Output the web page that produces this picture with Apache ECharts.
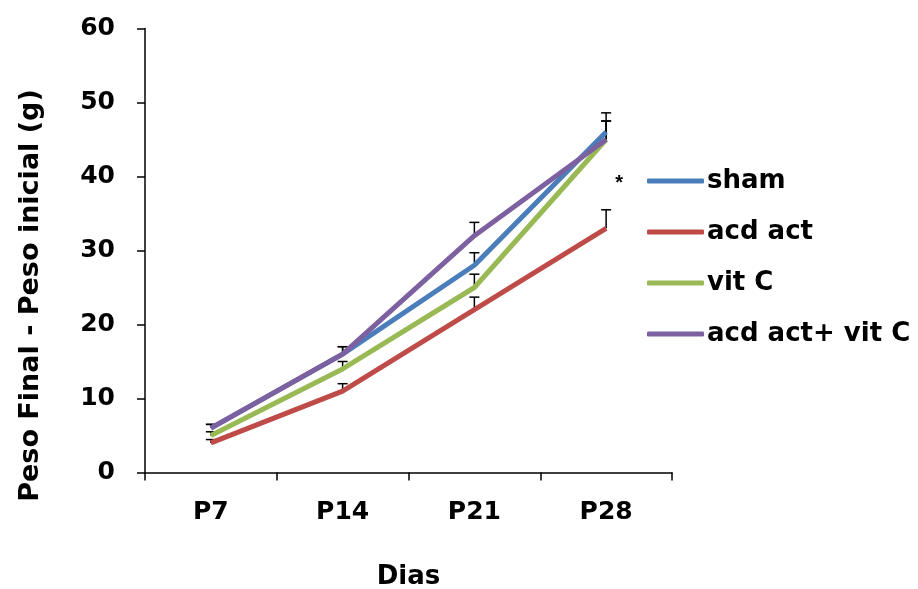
<!DOCTYPE html>
<html>
<head>
<meta charset="utf-8">
<script src="https://cdn.jsdelivr.net/npm/echarts@6/dist/echarts.min.js"></script>
<style>
  html, body { margin: 0; padding: 0; background: #fff; }
  #chart { width: 918px; height: 589px; }
</style>
</head>
<body>
<div id="chart"></div>
<script>
// categorias (dias)
const categories = ['P7', 'P14', 'P21', 'P28']
// medias por grupo
const sham = [6, 16, 28, 46]
const acdAct = [4, 11, 22, 33]
const vitC = [5, 14, 25, 45]
const acdActVitC = [6, 16, 32, 45]
// erro (so a parte de cima)
const shamErr = [0.5, 1.0, 1.7, 2.6]
const acdActErr = [0.45, 1.0, 1.7, 2.5]
const vitCErr = [0.5, 1.0, 1.8, 2.5]
const acdActVitCErr = [0.5, 1.0, 1.8, 2.5]
// marca de significancia
const starPoint = ['P28', 39]

const font = 'DejaVu Sans, sans-serif'
const chart = echarts.init(document.getElementById('chart'))

// serie de barra de erro
function errorSeries (values, errs) {
  return {
    type: 'custom',
    z: 1,
    silent: true,
    data: values.map((v, i) => [i, v, v + errs[i]]),
    renderItem (params, api) {
      const base = api.coord([api.value(0), api.value(1)])
      const top = api.coord([api.value(0), api.value(2)])
      const half = 5
      const style = { stroke: '#000', lineWidth: 1.5 }
      return {
        type: 'group',
        children: [
          { type: 'line', shape: { x1: base[0], y1: base[1], x2: top[0], y2: top[1] }, style },
          { type: 'line', shape: { x1: top[0] - half, y1: top[1], x2: top[0] + half, y2: top[1] }, style }
        ]
      }
    }
  }
}

function lineSeries (name, values, color) {
  return {
    name,
    type: 'line',
    z: 2,
    data: values,
    symbol: 'none',
    lineStyle: { color, width: 5 },
    itemStyle: { color }
  }
}

const option = {
  animation: false,
  textStyle: { fontFamily: font },
  grid: { left: 145, right: 246, top: 28.5, bottom: 116.5, containLabel: false, outerBoundsMode: 'none' },
  legend: {
    orient: 'vertical',
    left: 642,
    top: 163,
    icon: 'roundRect',
    itemWidth: 57,
    itemHeight: 5,
    itemGap: 25,
    textStyle: { fontFamily: font, fontSize: 26, fontWeight: 'bold', color: '#000', padding: [0, 0, 0, -2] },
    data: ['sham', 'acd act', 'vit C', 'acd act+ vit C']
  },
  xAxis: {
    type: 'category',
    data: categories,
    name: 'Dias',
    nameLocation: 'middle',
    nameGap: 92,
    nameTextStyle: { fontFamily: font, fontSize: 26, fontWeight: 'bold', color: '#000' },
    axisLine: { lineStyle: { color: '#000', width: 1.5 } },
    axisTick: { show: true, length: 8, lineStyle: { color: '#000', width: 1.5 } },
    axisLabel: { margin: 27, fontFamily: font, fontSize: 25, fontWeight: 'bold', color: '#000' },
    splitLine: { show: false }
  },
  yAxis: {
    type: 'value',
    min: 0,
    max: 60,
    interval: 10,
    name: 'Peso Final - Peso inicial (g)',
    nameLocation: 'middle',
    nameGap: 101,
    // o titulo fica mais para baixo que o centro do eixo
    nameTextStyle: { fontFamily: font, fontSize: 27, fontWeight: 'bold', color: '#000', padding: [0, 90, 0, 0] },
    axisLine: { show: true, lineStyle: { color: '#000', width: 1.5 } },
    axisTick: { show: true, length: 8, lineStyle: { color: '#000', width: 1.5 } },
    axisLabel: { margin: 30, fontFamily: font, fontSize: 25, fontWeight: 'bold', color: '#000' },
    splitLine: { show: false }
  },
  series: [
    errorSeries(sham, shamErr),
    errorSeries(acdAct, acdActErr),
    errorSeries(vitC, vitCErr),
    errorSeries(acdActVitC, acdActVitCErr),
    lineSeries('sham', sham, '#4A7EBB'),
    Object.assign(lineSeries('acd act', acdAct, '#BE4B48'), {
      markPoint: {
        symbol: 'circle',
        symbolSize: 1,
        silent: true,
        itemStyle: { color: 'rgba(0,0,0,0)' },
        label: {
          show: true,
          position: 'inside',
          formatter: '*',
          offset: [13, 0],
          fontFamily: 'Liberation Sans, sans-serif',
          fontSize: 20,
          fontWeight: 'bold',
          color: '#000'
        },
        data: [{ coord: starPoint }]
      }
    }),
    lineSeries('vit C', vitC, '#98B954'),
    lineSeries('acd act+ vit C', acdActVitC, '#7D60A0')
  ]
}

chart.setOption(option)
</script>
</body>
</html>
